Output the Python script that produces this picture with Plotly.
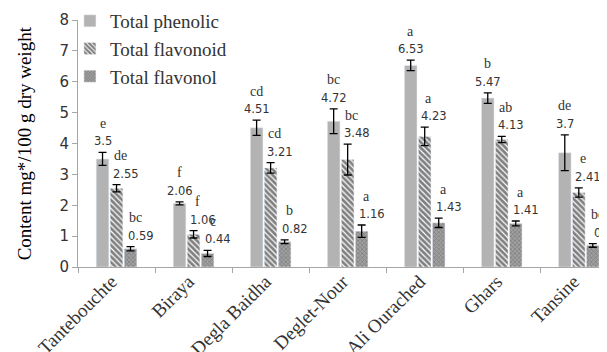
import plotly.graph_objects as go

# cultivars and measured contents (mg / 100 g dry weight)
cultivars = ['Tantebouchte', 'Biraya', 'Degla Baidha', 'Deglet-Nour',
             'Ali Ourached', 'Ghars', 'Tansine']

phenolic = [3.5, 2.06, 4.51, 4.72, 6.53, 5.47, 3.7]
phenolic_err = [0.21, 0.05, 0.25, 0.4, 0.17, 0.17, 0.58]
phenolic_letters = ['e', 'f', 'cd', 'bc', 'a', 'b', 'de']

flavonoid = [2.55, 1.06, 3.21, 3.48, 4.23, 4.13, 2.41]
flavonoid_err = [0.12, 0.12, 0.17, 0.5, 0.3, 0.1, 0.15]
flavonoid_letters = ['de', 'f', 'cd', 'bc', 'a', 'ab', 'e']

flavonol = [0.59, 0.44, 0.82, 1.16, 1.43, 1.41, 0.7]
flavonol_err = [0.07, 0.1, 0.06, 0.2, 0.15, 0.08, 0.06]
flavonol_letters = ['bc', 'c', 'b', 'a', 'a', 'a', 'bc']

SERIF = 'Liberation Serif'
SANS = 'DejaVu Sans'

fig = go.Figure()

err_style = dict(type='data', color='black', thickness=1.3, width=4)

fig.add_trace(go.Bar(
    x=cultivars, y=phenolic, name='Total phenolic',
    marker=dict(color='#b3b3b3'),
    error_y=dict(array=phenolic_err, **err_style),
    legendgroup='p',
))
fig.add_trace(go.Bar(
    x=cultivars, y=flavonoid, name='Total flavonoid',
    marker=dict(color='white',
                pattern=dict(shape='\\', fgcolor='black', bgcolor='white',
                             size=4, solidity=0.7)),
    error_y=dict(array=flavonoid_err, **err_style),
    legendgroup='f',
))
fig.add_trace(go.Bar(
    x=cultivars, y=flavonol, name='Total flavonol',
    marker=dict(color='#8c8c8c',
                pattern=dict(shape='x', fgcolor='#555555', bgcolor='#a0a0a0',
                             size=3, solidity=0.4)),
    error_y=dict(array=flavonol_err, **err_style),
    legendgroup='l',
))

# value labels and significance letters above each bar
series = [
    (phenolic, phenolic_err, phenolic_letters, -14, 0, 0),
    (flavonoid, flavonoid_err, flavonoid_letters, 0, 9, 4),
    (flavonol, flavonol_err, flavonol_letters, 14, 10, 5),
]
for vals, errs, letters, dx, vdx, ldx in series:
    for c, v, e, l in zip(cultivars, vals, errs, letters):
        fig.add_annotation(x=c, y=v + e, text=str(v), showarrow=False,
                           xshift=dx + vdx, yshift=11, yanchor='middle',
                           font=dict(family=SANS, size=11.5, color='#333333'))
        fig.add_annotation(x=c, y=v + e, text=l, showarrow=False,
                           xshift=dx + ldx, yshift=29, yanchor='middle',
                           font=dict(family=SERIF, size=14, color='#333333'))

# y axis title as a rotated annotation
fig.add_annotation(xref='paper', yref='paper', x=-0.099, y=0.5,
                   text='Content mg*/100 g dry weight', textangle=-90,
                   showarrow=False, xanchor='center', yanchor='middle',
                   font=dict(family=SERIF, size=19, color='black'))

# the page adds an 8 px body margin, so margins are shifted to compensate
fig.update_layout(
    width=607, height=352,
    margin=dict(l=70, r=0, t=12, b=93, autoexpand=False),
    plot_bgcolor='white', paper_bgcolor='white',
    barmode='group', bargap=0.455, bargroupgap=0.1,
    showlegend=True,
    legend=dict(x=-0.015, y=1.073, xanchor='left', yanchor='top',
                font=dict(family=SERIF, size=19, color='#333333'),
                tracegroupgap=0, bgcolor='rgba(0,0,0,0)',
                itemwidth=30),
)

fig.update_xaxes(
    range=[-0.5, 6.47], automargin=False,
    showline=True, linecolor='#a6a6a6', linewidth=1,
    ticks='outside', tickson='boundaries', ticklen=5, tickcolor='#a6a6a6',
    tickangle=-45, ticklabelshift=-5, ticklabelstandoff=-5,
    tickfont=dict(family=SERIF, size=19, color='#333333'),
)
fig.update_yaxes(
    range=[0, 8], dtick=1, automargin=False,
    showline=True, linecolor='#a6a6a6', linewidth=1,
    ticks='outside', ticklen=5, tickcolor='#a6a6a6',
    showgrid=False, zeroline=False,
    tickfont=dict(family=SANS, size=15, color='#333333'),
)

fig.write_html('out.html')
